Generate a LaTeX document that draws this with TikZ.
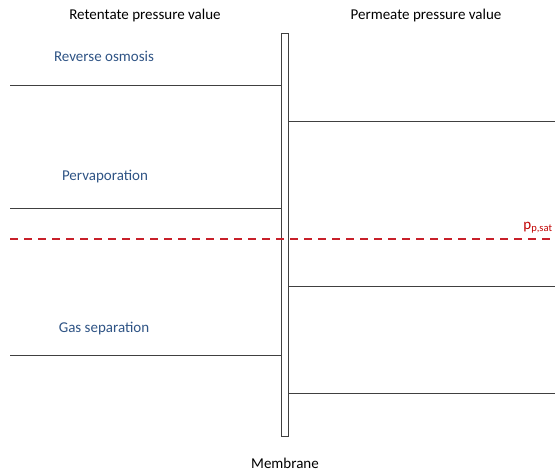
\documentclass[tikz,border=0pt]{standalone}
\usepackage{fontspec}
\setmainfont{Carlito}
\definecolor{lblblue}{HTML}{2F5485}
\definecolor{satred}{HTML}{C00000}
\definecolor{dashred}{HTML}{C8202A}
\definecolor{linegray}{HTML}{404040}
\begin{document}
\begin{tikzpicture}[x=1pt,y=-1pt,
  lvl/.style={draw=linegray,line width=1pt},
  proc/.style={text=lblblue,font=\fontsize{15}{17}\selectfont},
  hdr/.style={text=black,font=\fontsize{15}{17}\selectfont},
  redash/.style={draw=dashred,line width=1.1pt,dash pattern=on 8pt off 6pt}]
\useasboundingbox (0,0) rectangle (555,475);
\node[draw=linegray,line width=1pt,minimum width=7pt,minimum height=403pt,inner sep=0pt] (mem) at (284.5,234.5) {};
\node[hdr] (ret) at (145,15) {Retentate pressure value};
\node[hdr] (per) at (426,15) {Permeate pressure value};
\node[hdr] (memlbl) at (285,463) {Membrane};
\node[proc] (ro) at (104,56) {Reverse osmosis};
\node[proc] (pv) at (105,177) {Pervaporation};
\node[proc] (gs) at (104,329) {Gas separation};
\node[text=satred,font=\fontsize{15}{17}\selectfont] (psat) at (538,228) {p\textsubscript{p,sat}};
\coordinate (l1) at (10,85);
\coordinate (l2) at (10,208);
\coordinate (l3) at (10,355);
\coordinate (r1) at (555,121);
\coordinate (r2) at (555,286);
\coordinate (r3) at (555,393);
\coordinate (d0) at (10,239);
\coordinate (d1) at (555,239);
\draw[lvl] (l1) -- (l1 -| mem.west);
\draw[lvl] (l2) -- (l2 -| mem.west);
\draw[lvl] (l3) -- (l3 -| mem.west);
\draw[lvl] (r1) -- (r1 -| mem.east);
\draw[lvl] (r2) -- (r2 -| mem.east);
\draw[lvl] (r3) -- (r3 -| mem.east);
\draw[redash] (d0) -- (d1);
\end{tikzpicture}
\end{document}
